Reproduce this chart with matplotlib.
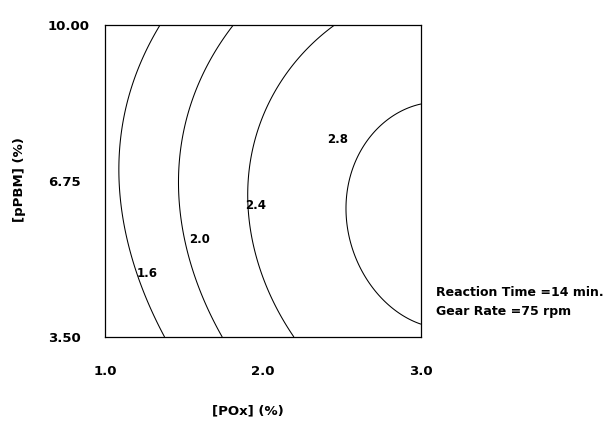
import numpy as np
import matplotlib
matplotlib.use("Agg")
import matplotlib.pyplot as plt

c16_x = [1.335, 1.222, 1.108, 1.082, 1.085, 1.203, 1.361]
c16_y = [10.0, 9.125, 7.75, 6.9, 6.354, 4.958, 3.5]
c20_x = [1.810, 1.658, 1.506, 1.468, 1.470, 1.506, 1.601, 1.753]
c20_y = [10.0, 9.125, 7.75, 6.77, 6.354, 5.667, 4.625, 3.5]
c24_x = [2.443, 2.234, 1.949, 1.880, 1.880, 1.937, 2.190]
c24_y = [10.0, 9.271, 7.75, 6.6, 6.25, 5.3125, 3.5]
c28_x = [3.0, 2.759, 2.582, 2.506, 2.506, 2.570, 2.759, 3.0]
c28_y = [8.4375, 7.75, 7.042, 6.354, 6.1, 5.521, 4.479, 3.6875]
levels = [1.6, 2.0, 2.4, 2.8]
level_labels = ["1.6", "2.0", "2.4", "2.8"]
label_x = [1.27, 1.60, 1.956, 2.475]
label_y = [4.83, 5.54, 6.23, 7.62]

xticks = [1.0, 2.0, 3.0]
xtick_labels = ["1.0", "2.0", "3.0"]
yticks = [3.50, 6.75, 10.00]
ytick_labels = ["3.50", "6.75", "10.00"]

# fit a cubic response surface through the traced contour points
px, py, pz = [], [], []
for cx, cy, lv in zip([c16_x, c20_x, c24_x, c28_x], [c16_y, c20_y, c24_y, c28_y], levels):
    px += cx; py += cy; pz += [lv] * len(cx)
px = np.array(px); py = np.array(py); pz = np.array(pz)

def design(x, y):
    u = x - 2.0
    v = (y - 6.75) / 3.25
    return np.stack([np.ones_like(u), u, v, u * u, v * v, u * v,
                     u * u * v, u * v * v, u ** 3, v ** 3], axis=-1)

coef, *_ = np.linalg.lstsq(design(px, py), pz, rcond=None)

gx, gy = np.meshgrid(np.linspace(1.0, 3.0, 400), np.linspace(3.5, 10.0, 400))
gz = design(gx, gy) @ coef

plt.rcParams['font.family'] = ['DejaVu Sans']
fig = plt.figure(figsize=(6.13, 4.22), dpi=100)
ax = fig.add_axes([105 / 613, 1 - 337 / 422, 316 / 613, 312 / 422])
ax.contour(gx, gy, gz, levels=levels, colors='black', linewidths=0.75)
for t, lx, ly in zip(level_labels, label_x, label_y):
    ax.text(lx, ly, t, fontsize=8.5, fontweight='bold', ha='center', va='center')

ax.set_xlim(1.0, 3.0)
ax.set_ylim(3.5, 10.0)
ax.set_xticks(xticks)
ax.set_xticklabels(xtick_labels, fontsize=9.5, fontweight='bold')
ax.set_yticks(yticks)
ax.set_yticklabels(ytick_labels, fontsize=9.5, fontweight='bold')
ax.tick_params(axis='x', length=0, pad=20)
ax.tick_params(axis='y', length=0, pad=41)
for lbl in ax.get_yticklabels():
    lbl.set_ha('left')
for s in ax.spines.values():
    s.set_linewidth(0.9)

fig.text(248 / 613, 1 - 411 / 422, "[POx] (%)", fontsize=9.5, fontweight='bold',
         ha='center', va='center')
fig.text(20 / 613, 1 - 180 / 422, "[pPBM] (%)", fontsize=9.5, fontweight='bold',
         ha='center', va='center', rotation=90)
fig.text(436 / 613, 1 - 293 / 422, "Reaction Time =14 min.", fontsize=9.0,
         fontweight='bold', ha='left', va='center')
fig.text(436 / 613, 1 - 312 / 422, "Gear Rate =75 rpm", fontsize=9.0,
         fontweight='bold', ha='left', va='center')

fig.savefig("out.png", dpi=100)
